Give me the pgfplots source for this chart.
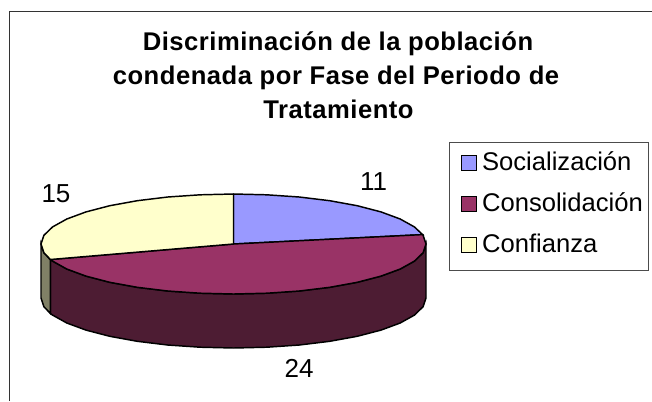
\documentclass[border=0pt]{standalone}
\usepackage{pgfplots}
\pgfplotsset{compat=1.18}
\usepackage{fontspec}
\setmainfont{Liberation Sans}
\newfontfamily\titlefont[LetterSpace=2]{Liberation Sans}
\definecolor{sBlue}{HTML}{9999FF}
\definecolor{sMaroon}{HTML}{993366}
\definecolor{sYellow}{HTML}{FFFFCC}
\definecolor{sMaroonD}{HTML}{4D1C33}
\definecolor{sYellowD}{HTML}{808066}
\begin{document}
\begin{tikzpicture}
\useasboundingbox (0,0) rectangle (489pt,300.75pt);
\begin{axis}[
  at={(0,0)},anchor=south west,
  scale only axis,width=489pt,height=300.75pt,
  xmin=0,xmax=652,ymin=0,ymax=401,y dir=reverse,
  axis lines=none,clip=false,
  legend style={at={(axis cs:449,142)},anchor=north west,draw=black!70,line width=0.8pt,
    font=\fontsize{19.2}{21}\selectfont,fill=white,inner xsep=3.5pt,inner ysep=6.5pt,row sep=9.25pt,
    nodes={inner sep=0pt,text height=14.5pt,text depth=7pt,text width=121pt,align=left}},
  legend cell align=left,
  legend image code/.code={\path[draw=none,fill=none] (-5.5pt,0pt) rectangle (15.4pt,0pt);\draw[#1,line width=1.1pt] (0pt,-3.75pt) rectangle (11.25pt,7.45pt);},
]
% frame
\addplot[forget plot,draw=black!80,line width=0.9pt] coordinates {(9.5,401)(9.5,11.7)(652,11.7)};
% sides
\addplot[forget plot,draw=black,fill=sMaroonD,line width=1.1pt] coordinates {
(426,244)(423.1,252.7)(414.4,261.1)(400.2,269)(381,276.1)(357.2,282.3)(329.75,287.3)(299.3,291)(266.9,293.2)(233.5,294)(200.1,293.2)(167.7,291)(137.25,287.3)(109.8,282.3)(86,276.1)(66.8,269)(52.6,261.1)(50.4,259.5)
(50.4,313.5)(52.6,315.1)(66.8,323)(86,330.1)(109.8,336.3)(137.25,341.3)(167.7,345)(200.1,347.2)(233.5,348)(266.9,347.2)(299.3,345)(329.75,341.3)(357.2,336.3)(381,330.1)(400.2,323)(414.4,315.1)(423.1,306.7)(426,298)} --cycle;
\addplot[forget plot,draw=black,fill=sYellowD,line width=1.1pt] coordinates {
(50.4,259.5)(43.9,252.7)(41,244)(41,298)(43.9,306.7)(50.4,313.5)} --cycle;
% top
\addplot[draw=black,fill=sBlue,line width=1.1pt] coordinates {
(233.5,244)(233.5,194)(266.9,194.8)(299.3,197)(329.75,200.7)(357.2,205.7)(381,211.9)(400.2,219)(414.4,226.9)(422.6,234.6)} --cycle;
\addlegendentry{Socialización}
\addplot[draw=black,fill=sMaroon,line width=1.1pt] coordinates {
(233.5,244)(422.6,234.6)(423.1,235.3)(426,244)(423.1,252.7)(414.4,261.1)(400.2,269)(381,276.1)(357.2,282.3)(329.75,287.3)(299.3,291)(266.9,293.2)(233.5,294)(200.1,293.2)(167.7,291)(137.25,287.3)(109.8,282.3)(86,276.1)(66.8,269)(52.6,261.1)(50.4,259.5)} --cycle;
\addlegendentry{Consolidación}
\addplot[draw=black,fill=sYellow,line width=1.1pt] coordinates {
(233.5,244)(50.4,259.5)(43.9,252.7)(41,244)(43.9,235.3)(52.6,226.9)(66.8,219)(86,211.9)(109.8,205.7)(137.25,200.7)(167.7,197)(200.1,194.8)(233.5,194)} --cycle;
\addlegendentry{Confianza}
% data labels
\node[anchor=base,font=\fontsize{19.5}{21}\selectfont,inner sep=0pt] at (axis cs:373.5,190.5) {11};
\node[anchor=base,font=\fontsize{19.5}{21}\selectfont,inner sep=0pt] at (axis cs:56,202.5) {15};
\node[anchor=base,font=\fontsize{19.5}{21}\selectfont,inner sep=0pt] at (axis cs:299,377) {24};
% title
\node[anchor=base,font=\titlefont\bfseries\fontsize{19.2}{22}\selectfont,inner sep=0pt] at (axis cs:338,50) {Discriminación de la población};
\node[anchor=base,font=\titlefont\bfseries\fontsize{19.2}{22}\selectfont,inner sep=0pt] at (axis cs:336,84) {condenada por Fase del Periodo de};
\node[anchor=base,font=\titlefont\bfseries\fontsize{19.2}{22}\selectfont,inner sep=0pt] at (axis cs:338.5,118) {Tratamiento};
\end{axis}
\end{tikzpicture}
\end{document}
